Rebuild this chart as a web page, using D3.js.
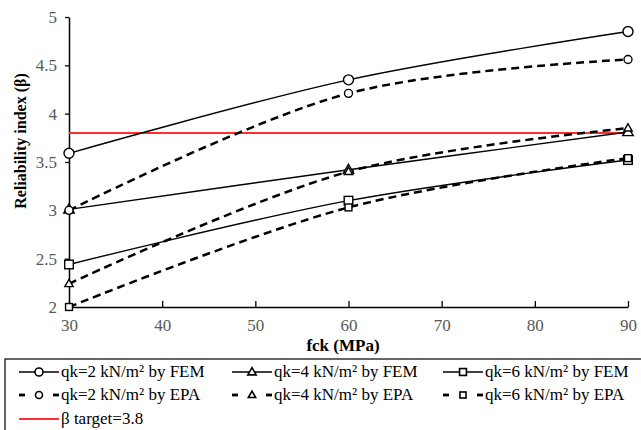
<!DOCTYPE html>
<html>
<head>
<meta charset="utf-8">
<script src="https://cdn.jsdelivr.net/npm/d3@7"></script>
<style>
  body { margin: 0; background: #fff; }
</style>
</head>
<body>
<div id="container"></div>
<script>
/* CONSTANTS AND GLOBALS */
const width = 641,
  height = 430,
  margin = { top: 17, bottom: 123, left: 69, right: 13 },
  serifFont = "'Liberation Serif', 'DejaVu Serif', 'Times New Roman', 'Noto Serif', serif";

// data
const fckValues = [30, 60, 90];
const xTicks = [30, 40, 50, 60, 70, 80, 90];
const yTicks = [2, 2.5, 3, 3.5, 4, 4.5, 5];

const femQk2 = [3.59, 4.35, 4.85];
const femQk4 = [3.01, 3.42, 3.81];
const femQk6 = [2.44, 3.10, 3.52];
const epaQk2 = [3.00, 4.21, 4.56];
const epaQk4 = [2.24, 3.40, 3.85];
const epaQk6 = [2.00, 3.03, 3.54];
const betaTarget = 3.8;

const seriesList = [
  { name: "qk=2 kN/m² by FEM", values: femQk2, marker: "circle", dashed: false },
  { name: "qk=4 kN/m² by FEM", values: femQk4, marker: "triangle", dashed: false },
  { name: "qk=6 kN/m² by FEM", values: femQk6, marker: "square", dashed: false },
  { name: "qk=2 kN/m² by EPA", values: epaQk2, marker: "circle", dashed: true },
  { name: "qk=4 kN/m² by EPA", values: epaQk4, marker: "triangle", dashed: true },
  { name: "qk=6 kN/m² by EPA", values: epaQk6, marker: "square", dashed: true }
];

const svg = d3.select("#container")
  .append("svg")
  .attr("width", width)
  .attr("height", height)
  .attr("font-family", serifFont);

// + SCALES
const xScale = d3.scaleLinear()
  .domain([30, 90])
  .range([margin.left, width - margin.right]);

const yScale = d3.scaleLinear()
  .domain([2, 5])
  .range([height - margin.bottom, margin.top]);

// + AXES
const xAxisGroup = svg.append("g")
  .attr("transform", `translate(0, ${height - margin.bottom})`)
  .call(d3.axisBottom(xScale).tickValues(xTicks).tickSizeInner(-6).tickSizeOuter(0).tickPadding(12));

const yAxisGroup = svg.append("g")
  .attr("transform", `translate(${margin.left}, 0)`)
  .call(d3.axisLeft(yScale).tickValues(yTicks).tickSizeInner(4).tickSizeOuter(0).tickPadding(8).tickFormat(d3.format("")));

[xAxisGroup, yAxisGroup].forEach(g => {
  g.attr("font-family", serifFont);
  g.select(".domain").attr("stroke", "#000").attr("stroke-width", 1.5);
  g.selectAll(".tick line").attr("stroke", "#000").attr("stroke-width", 1.3);
  g.selectAll(".tick text")
    .attr("fill", "#595959")
    .style("font-family", serifFont)
    .style("font-size", "17px");
});

svg.append("text")
  .attr("x", 343)
  .attr("y", 351)
  .attr("text-anchor", "middle")
  .style("font-family", serifFont)
  .style("font-size", "17px")
  .style("font-weight", "bold")
  .text("fck (MPa)");

svg.append("text")
  .attr("transform", `translate(26, 141) rotate(-90)`)
  .attr("text-anchor", "middle")
  .style("font-family", serifFont)
  .style("font-size", "16px")
  .style("font-weight", "bold")
  .text("Reliability index (β)");

// + TARGET LINE
svg.append("line")
  .attr("x1", xScale(30))
  .attr("x2", xScale(90))
  .attr("y1", yScale(betaTarget))
  .attr("y2", yScale(betaTarget))
  .attr("stroke", "#ff2d2d")
  .attr("stroke-width", 2);

// marker helper, s = scale factor
function drawMarker(g, type, cx, cy, s, sw) {
  if (type === "circle") {
    g.append("circle").attr("cx", cx).attr("cy", cy).attr("r", 5 * s)
      .attr("fill", "#fff").attr("stroke", "#000").attr("stroke-width", sw);
  } else if (type === "triangle") {
    const r = 5.5 * s;
    g.append("path")
      .attr("d", `M${cx},${cy - r} L${cx + r * 0.95},${cy + r * 0.65} L${cx - r * 0.95},${cy + r * 0.65}Z`)
      .attr("fill", "#fff").attr("stroke", "#000").attr("stroke-width", sw);
  } else {
    const h = 4.3 * s;
    g.append("rect").attr("x", cx - h).attr("y", cy - h).attr("width", 2 * h).attr("height", 2 * h)
      .attr("fill", "#fff").attr("stroke", "#000").attr("stroke-width", sw);
  }
}

// + LINES
const lineGen = d3.line()
  .x(d => xScale(d[0]))
  .y(d => yScale(d[1]))
  .curve(d3.curveCatmullRom);

const plot = svg.append("g");
seriesList.forEach(s => {
  const pts = fckValues.map((f, i) => [f, s.values[i]]);
  plot.append("path")
    .attr("d", lineGen(pts))
    .attr("fill", "none")
    .attr("stroke", "#000")
    .attr("stroke-width", s.dashed ? 2.5 : 1.4)
    .attr("stroke-dasharray", s.dashed ? "8,5" : null);
});
seriesList.forEach(s => {
  fckValues.forEach((f, i) => drawMarker(plot, s.marker, xScale(f), yScale(s.values[i]), s.dashed ? 0.8 : 1, 1.4));
});

// + LEGEND
const legend = svg.append("g");
legend.append("rect")
  .attr("x", 5).attr("y", 359).attr("width", 645).attr("height", 80)
  .attr("fill", "none").attr("stroke", "#000").attr("stroke-width", 1.2);

const colX = [19, 232, 443];
const rowY = [372, 395, 419];
const keyLen = 40;
seriesList.forEach((s, i) => {
  const x0 = colX[i % 3], y0 = rowY[Math.floor(i / 3)];
  const mid = x0 + keyLen / 2;
  if (s.dashed) {
    [[x0, x0 + 6], [x0 + keyLen - 6, x0 + keyLen]].forEach(seg => {
      legend.append("line")
        .attr("x1", seg[0]).attr("x2", seg[1]).attr("y1", y0).attr("y2", y0)
        .attr("stroke", "#000").attr("stroke-width", 2.8);
    });
  } else {
    legend.append("line")
      .attr("x1", x0).attr("x2", x0 + keyLen).attr("y1", y0).attr("y2", y0)
      .attr("stroke", "#000").attr("stroke-width", 1.6);
  }
  drawMarker(legend, s.marker, mid, y0, s.dashed ? 0.7 : 0.8, 1.6);
  legend.append("text")
    .attr("x", x0 + keyLen + 2).attr("y", y0 + 5)
    .style("font-family", serifFont)
    .style("font-size", "17px")
    .attr("fill", "#000")
    .text(s.name);
});
legend.append("line")
  .attr("x1", colX[0]).attr("x2", colX[0] + keyLen).attr("y1", rowY[2]).attr("y2", rowY[2])
  .attr("stroke", "#ff2d2d").attr("stroke-width", 2);
legend.append("text")
  .attr("x", colX[0] + keyLen + 2).attr("y", rowY[2] + 5)
  .style("font-family", serifFont)
  .style("font-size", "17px")
  .text("β target=3.8");
</script>
</body>
</html>
